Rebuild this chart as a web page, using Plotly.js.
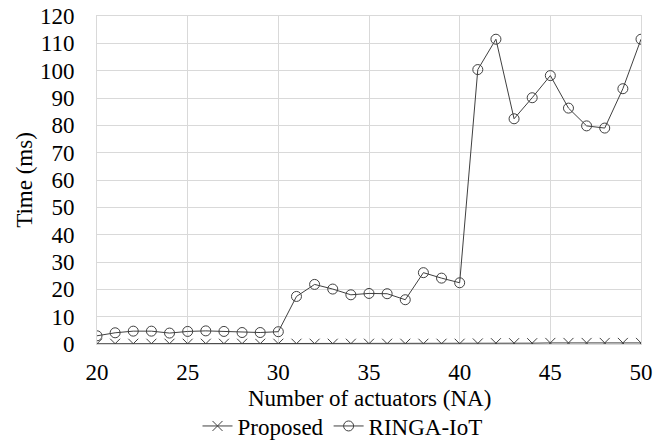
<!DOCTYPE html>
<html>
<head>
<meta charset="utf-8">
<script src="https://cdn.plot.ly/plotly-3.0.1.min.js"></script>
<style>html,body{margin:0;padding:0;background:#fff;}#chart{width:667px;height:441px;}</style>
</head>
<body>
<div id="chart"></div>
<script>
const actuators = [20,21,22,23,24,25,26,27,28,29,30,31,32,33,34,35,36,37,38,39,40,41,42,43,44,45,46,47,48,49,50];
const proposed = [0.1,0.1,0.1,0.1,0.1,0.1,0.1,0.1,0.1,0.1,0.1,0.1,0.1,0.1,0.1,0.1,0.1,0.1,0.1,0.1,0.1,0.2,0.3,0.3,0.3,0.4,0.4,0.4,0.4,0.4,0.4];
const ringa = [3.0,4.1,4.7,4.7,4.0,4.6,4.8,4.6,4.2,4.2,4.5,17.4,21.8,20.1,18.0,18.5,18.4,16.2,26.1,24.1,22.4,100.4,111.5,82.4,90.1,98.2,86.3,79.8,79.0,93.4,111.5];
const yTicks = [0,10,20,30,40,50,60,70,80,90,100,110,120];
const xTicks = [20,25,30,35,40,45,50];
const xTitle = 'Number of actuators (NA)';
const yTitle = 'Time (ms)';

const font = {family: '"Liberation Serif", "Times New Roman", serif', size: 23, color: '#000'};

const traces = [
  {x: actuators, y: proposed, name: 'Proposed', type: 'scatter', mode: 'lines+markers',
   line: {color: '#404040', width: 1},
   marker: {symbol: 'x-thin-open', size: 10, color: '#404040', line: {color: '#404040', width: 1}}},
  {x: actuators, y: ringa, name: 'RINGA-IoT', type: 'scatter', mode: 'lines+markers',
   line: {color: '#404040', width: 1},
   marker: {symbol: 'circle-open', size: 10, color: '#404040', line: {color: '#404040', width: 1}}}
];

const layout = {
  width: 667, height: 441,
  margin: {l: 97, r: 26, t: 16, b: 97, autoexpand: false},
  paper_bgcolor: '#fff', plot_bgcolor: '#fff',
  font: font,
  showlegend: true,
  legend: {orientation: 'h', x: 0.5135, xanchor: 'center', xref: 'container',
           y: 0.034, yanchor: 'middle', yref: 'container',
           font: font, itemwidth: 30, tracegroupgap: 0},
  annotations: [
    {text: xTitle, xref: 'paper', yref: 'paper', x: 0.5, y: -0.165,
     xanchor: 'center', yanchor: 'middle', showarrow: false, font: font}
  ],
  xaxis: {range: [20, 50], tickvals: xTicks, ticktext: xTicks.map(String),
          showgrid: true, gridcolor: '#d9d9d9', gridwidth: 1,
          zeroline: false, showline: true, linecolor: '#d9d9d9', mirror: true,
          ticks: '', ticklen: 0, tickfont: font, ticklabelstandoff: 7},
  yaxis: {range: [0, 120], tickvals: yTicks, ticktext: yTicks.map(String),
          showgrid: true, gridcolor: '#d9d9d9', gridwidth: 1,
          zeroline: false, showline: true, linecolor: '#d9d9d9', mirror: true,
          ticks: '', tickfont: font, ticklabelstandoff: 17, automargin: true,
          title: {text: yTitle, font: font, standoff: 0}}
};

Plotly.newPlot('chart', traces, layout, {displayModeBar: false, staticPlot: true});
</script>
</body>
</html>
